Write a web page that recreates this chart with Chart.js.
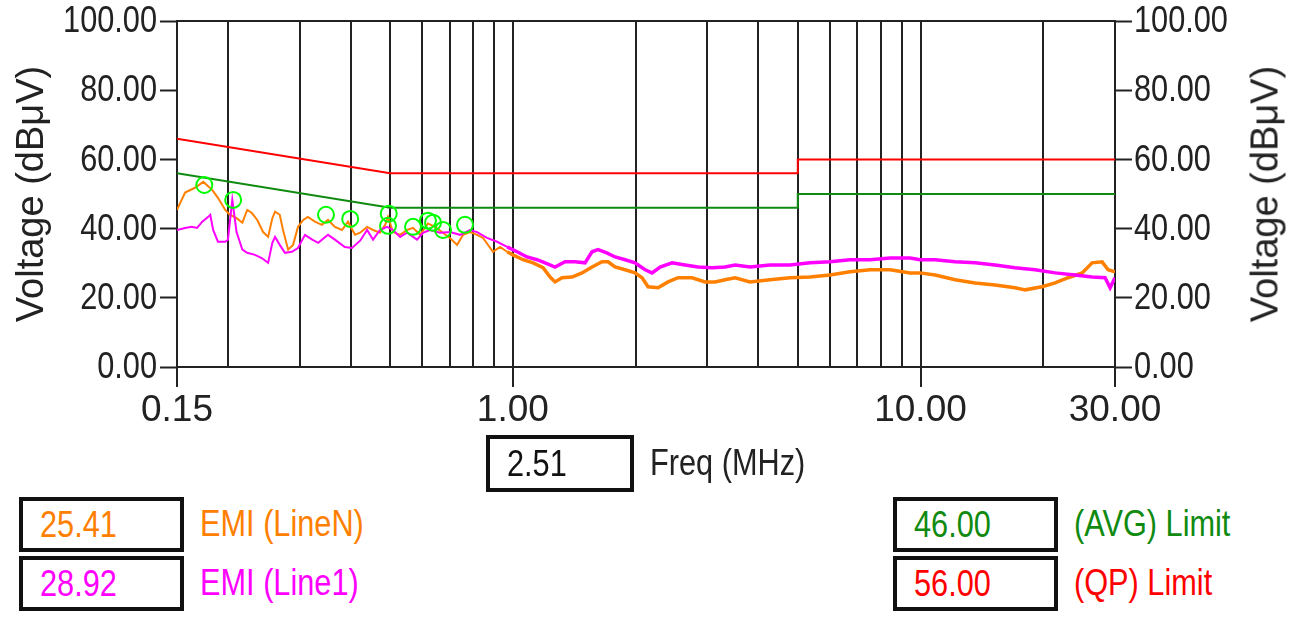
<!DOCTYPE html>
<html>
<head>
<meta charset="utf-8">
<script src="https://cdn.jsdelivr.net/npm/chart.js@4.4.0/dist/chart.umd.min.js"></script>
<style>
body { margin: 0; background: #fff; width: 1294px; height: 617px; overflow: hidden; position: relative;
       font-family: "Liberation Sans", Arial, sans-serif; color: #222; }
#wrap { position: absolute; left: 0; top: 0; width: 1294px; height: 440px; }
.box { position: absolute; box-sizing: border-box; border: 4px solid #111; display: flex; align-items: center;
       padding-left: 17px; font-size: 37px; }
.lbl { position: absolute; font-size: 37px; display: flex; align-items: center; height: 54px; }
.narrow { display: inline-block; transform: scaleX(0.83); transform-origin: left center; white-space: nowrap; }
#rtitle { position: absolute; left: 1265px; top: 194px; font-size: 38px; white-space: nowrap;
          transform: translate(-50%, -50%) rotate(-90deg); color: #222; }
</style>
</head>
<body>
<div id="wrap"><canvas id="myChart"></canvas></div>
<div id="rtitle">Voltage (dBμV)</div>

<div class="box" style="left:486px; top:435px; width:148px; height:57px; color:#111;"><span class="narrow">2.51</span></div>
<div class="lbl" style="left:650px; top:436px; color:#222;"><span class="narrow">Freq (MHz)</span></div>

<div class="box" style="left:19px; top:497px; width:165px; height:55px; color:#ff8000;"><span class="narrow">25.41</span></div>
<div class="lbl" style="left:200px; top:497px; color:#ff8000;"><span class="narrow">EMI (LineN)</span></div>
<div class="box" style="left:19px; top:556px; width:165px; height:55px; color:#ff00ff;"><span class="narrow">28.92</span></div>
<div class="lbl" style="left:200px; top:556px; color:#ff00ff;"><span class="narrow">EMI (Line1)</span></div>

<div class="box" style="left:893px; top:497px; width:165px; height:55px; color:#108a10;"><span class="narrow">46.00</span></div>
<div class="lbl" style="left:1074px; top:497px; color:#108a10;"><span class="narrow">(AVG) Limit</span></div>
<div class="box" style="left:893px; top:556px; width:165px; height:55px; color:#ff0000;"><span class="narrow">56.00</span></div>
<div class="lbl" style="left:1074px; top:556px; color:#ff0000;"><span class="narrow">(QP) Limit</span></div>

<script>
// measured traces (MHz, dBuV)
const lineNFreq = [0.150, 0.157, 0.166, 0.174, 0.183, 0.189, 0.197, 0.202, 0.210, 0.217, 0.223, 0.229, 0.236, 0.244,
    0.251, 0.257, 0.261, 0.268, 0.273, 0.281, 0.289, 0.297, 0.306, 0.314, 0.327, 0.340, 0.352, 0.366, 0.381, 0.394,
    0.410, 0.422, 0.439, 0.454, 0.472, 0.486, 0.494, 0.508, 0.529, 0.550, 0.569, 0.592, 0.619, 0.644, 0.674, 0.701,
    0.730, 0.755, 0.785, 0.817, 0.845, 0.894, 0.930, 0.968, 1.00, 1.059, 1.121, 1.186, 1.234, 1.269, 1.320, 1.397,
    1.478, 1.564, 1.655, 1.712, 1.781, 1.885, 1.994, 2.075, 2.146, 2.271, 2.403, 2.543, 2.751, 2.962, 3.134, 3.316,
    3.509, 3.818, 4.275, 4.787, 5.359, 6.00, 6.718, 7.521, 8.421, 9.428, 9.976, 10.86, 12.16, 13.61, 15.24, 17.06,
    18.05, 19.87, 21.39, 23.02, 24.92, 26.36, 27.89, 28.86, 30.0];
const lineNLevel = [45.4, 50.4, 51.8, 53.5, 51.2, 48.9, 45.4, 44.0, 43.0, 41.7, 45.4, 44.5, 42.5, 39.0,
    37.6, 43.0, 44.9, 44.0, 39.6, 33.9, 35.3, 40.5, 42.5, 43.4, 42.0, 41.1, 42.5, 40.5, 39.6, 42.0,
    38.2, 38.8, 40.5, 39.6, 38.8, 41.1, 43.4, 39.0, 38.2, 39.6, 40.2, 38.2, 41.5, 40.5, 38.8, 37.3,
    35.3, 38.2, 39.0, 38.2, 37.3, 33.3, 34.7, 33.3, 32.4, 31.0, 30.1, 28.7, 26.0, 24.6, 25.8, 26.0,
    27.2, 28.9, 30.4, 30.4, 28.9, 28.1, 27.2, 25.8, 23.2, 22.9, 24.6, 25.8, 25.8, 24.6, 24.6, 25.2,
    25.8, 24.6, 25.2, 25.8, 26.0, 26.6, 27.5, 28.1, 28.1, 27.2, 27.2, 26.6, 25.2, 24.3, 23.7, 22.9,
    22.3, 23.2, 24.3, 25.8, 27.2, 30.1, 30.4, 28.1, 27.5];

const line1Freq = [0.150, 0.157, 0.163, 0.168, 0.173, 0.179, 0.181, 0.184, 0.189, 0.197, 0.200, 0.205, 0.210, 0.217,
    0.223, 0.233, 0.242, 0.251, 0.257, 0.261, 0.268, 0.276, 0.287, 0.297, 0.309, 0.322, 0.333, 0.352, 0.366, 0.387,
    0.403, 0.422, 0.439, 0.454, 0.472, 0.491, 0.508, 0.529, 0.550, 0.582, 0.602, 0.626, 0.663, 0.701, 0.742, 0.785,
    0.817, 0.864, 0.915, 0.968, 1.024, 1.083, 1.146, 1.200, 1.269, 1.343, 1.421, 1.503, 1.564, 1.618, 1.700, 1.781,
    1.885, 1.994, 2.110, 2.195, 2.297, 2.458, 2.644, 2.847, 3.081, 3.316, 3.509, 3.818, 4.275, 4.787, 5.359, 6.00,
    6.718, 7.521, 8.421, 9.428, 9.976, 10.86, 12.16, 13.61, 15.24, 17.06, 19.10, 21.39, 23.95, 26.36, 28.37, 29.18, 30.0];
const line1Level = [39.6, 40.2, 40.5, 40.2, 42.0, 43.4, 44.0, 39.6, 36.2, 36.2, 36.8, 48.3, 39.0, 33.9,
    33.0, 32.4, 31.5, 30.1, 35.9, 37.6, 35.3, 33.0, 33.3, 34.4, 38.2, 36.8, 35.9, 38.2, 36.8, 34.7,
    34.4, 36.5, 39.6, 36.8, 39.6, 40.5, 39.6, 37.6, 38.8, 36.8, 38.8, 39.6, 38.8, 39.0, 38.2, 39.6,
    39.0, 37.3, 36.2, 34.7, 33.3, 31.8, 31.0, 30.1, 28.9, 30.4, 30.4, 30.1, 33.3, 33.9, 33.0, 31.8,
    31.0, 30.1, 28.1, 27.2, 28.9, 30.1, 29.5, 28.9, 28.7, 28.9, 29.5, 28.9, 29.5, 29.5, 30.1, 30.4,
    31.0, 31.0, 31.5, 31.5, 31.0, 31.0, 30.4, 30.1, 29.5, 28.7, 28.1, 27.2, 26.6, 26.0, 25.8, 22.9, 25.8];

// CISPR limits
const limitFreq = [0.15, 0.5, 5, 5, 30];
const qpLimit = [66, 56, 56, 60, 60];
const avgLimit = [56, 46, 46, 50, 50];

// marked peaks
const peakFreq = [0.175, 0.206, 0.348, 0.399, 0.496, 0.494, 0.569, 0.619, 0.637, 0.674, 0.763];
const peakLevel = [52.6, 48.3, 44.0, 42.8, 44.3, 40.8, 40.5, 42.3, 41.7, 39.6, 41.1];

const gridFreqs = [0.15, 0.2, 0.3, 0.4, 0.5, 0.6, 0.7, 0.8, 0.9, 1, 2, 3, 4, 5, 6, 7, 8, 9, 10, 20, 30];
const labelFreqs = [0.15, 1, 10, 30];
const yTicks = [0, 20, 40, 60, 80, 100];

const tickFont = { family: '"Liberation Sans", Arial, sans-serif', size: 37 };
const titleFont = { family: '"Liberation Sans", Arial, sans-serif', size: 38 };

function toPoints(xs, ys) {
    return xs.map((x, i) => ({ x: x, y: ys[i] }));
}

// frame round the plot + condensed y labels like the original instrument font
const frame = {
    id: 'frame',
    beforeDatasetsDraw(chart) {
        const a = chart.chartArea;
        const c = chart.ctx;
        c.save();
        c.strokeStyle = '#222';
        c.lineWidth = 2;
        c.strokeRect(a.left, a.top, a.right - a.left, a.bottom - a.top);
        c.restore();
    },
    afterDraw(chart) {
        const c = chart.ctx;
        c.save();
        c.fillStyle = '#222';
        c.font = '37px "Liberation Sans", Arial, sans-serif';
        c.textBaseline = 'middle';
        ['y', 'y2'].forEach(id => {
            const s = chart.scales[id];
            yTicks.forEach(v => {
                const py = s.getPixelForValue(v);
                c.save();
                if (id === 'y') {
                    c.translate(s.right - 20, py);
                    c.textAlign = 'right';
                } else {
                    c.translate(s.left + 19, py);
                    c.textAlign = 'left';
                }
                c.scale(0.83, 1);
                c.fillText(v.toFixed(2), 0, 1);
                c.restore();
            });
        });
        c.restore();
    }
};

function yAxis(pos, width, showTitle) {
    return {
        position: pos,
        min: 0,
        max: 100,
        afterBuildTicks: s => { s.ticks = yTicks.map(v => ({ value: v })); },
        afterFit: s => { s.width = width; },
        grid: { drawOnChartArea: false, tickLength: 17, tickColor: '#222', tickWidth: 2 },
        border: { color: '#222', width: 2 },
        ticks: { display: false },
        title: { display: showTitle, text: 'Voltage (dBμV)', color: '#222', font: titleFont, padding: { top: 10, bottom: 0 } }
    };
}

const ctx = document.getElementById('myChart').getContext('2d');
const myChart = new Chart(ctx, {
    type: 'line',
    data: {
        datasets: [
            {
                label: 'Peaks', data: toPoints(peakFreq, peakLevel), showLine: false,
                pointRadius: 8, pointBorderColor: '#00ff00', pointBackgroundColor: 'rgba(0,0,0,0)', pointBorderWidth: 2, order: 0
            },
            {
                label: 'EMI (Line1)', data: toPoints(line1Freq, line1Level), borderColor: '#ff00ff', borderWidth: 2, order: 1,
                segment: { borderWidth: c => c.p0.parsed.x >= 0.95 ? 3.5 : 2 }
            },
            {
                label: 'EMI (LineN)', data: toPoints(lineNFreq, lineNLevel), borderColor: '#ff8000', borderWidth: 2, order: 2,
                segment: { borderWidth: c => c.p0.parsed.x >= 0.95 ? 3.5 : 2 }
            },
            { label: '(QP) Limit', data: toPoints(limitFreq, qpLimit), borderColor: '#ff0000', borderWidth: 2, order: 3 },
            { label: '(AVG) Limit', data: toPoints(limitFreq, avgLimit), borderColor: '#108a10', borderWidth: 2, order: 3 }
        ]
    },
    options: {
        responsive: true,
        maintainAspectRatio: false,
        animation: false,
        layout: { padding: { top: 21, left: 0, right: 0, bottom: 0 } },
        elements: { point: { radius: 0 }, line: { tension: 0, fill: false } },
        plugins: { legend: { display: false }, tooltip: { enabled: false } },
        scales: {
            x: {
                type: 'logarithmic',
                position: 'bottom',
                min: 0.15,
                max: 30,
                afterBuildTicks: s => { s.ticks = gridFreqs.map(v => ({ value: v })); },
                afterFit: s => { s.height = 440 - 367; },
                grid: {
                    color: '#222', lineWidth: 2, tickLength: 20,
                    tickColor: c => (c.tick && labelFreqs.includes(c.tick.value)) ? '#222' : 'rgba(0,0,0,0)'
                },
                border: { display: false },
                ticks: {
                    autoSkip: false, maxRotation: 0, padding: 2, color: '#222', font: tickFont,
                    callback: v => labelFreqs.includes(v) ? Number(v).toFixed(2) : ''
                }
            },
            y: yAxis('left', 177, true),
            y2: yAxis('right', 179, false)
        }
    },
    plugins: [frame]
});
</script>
</body>
</html>
